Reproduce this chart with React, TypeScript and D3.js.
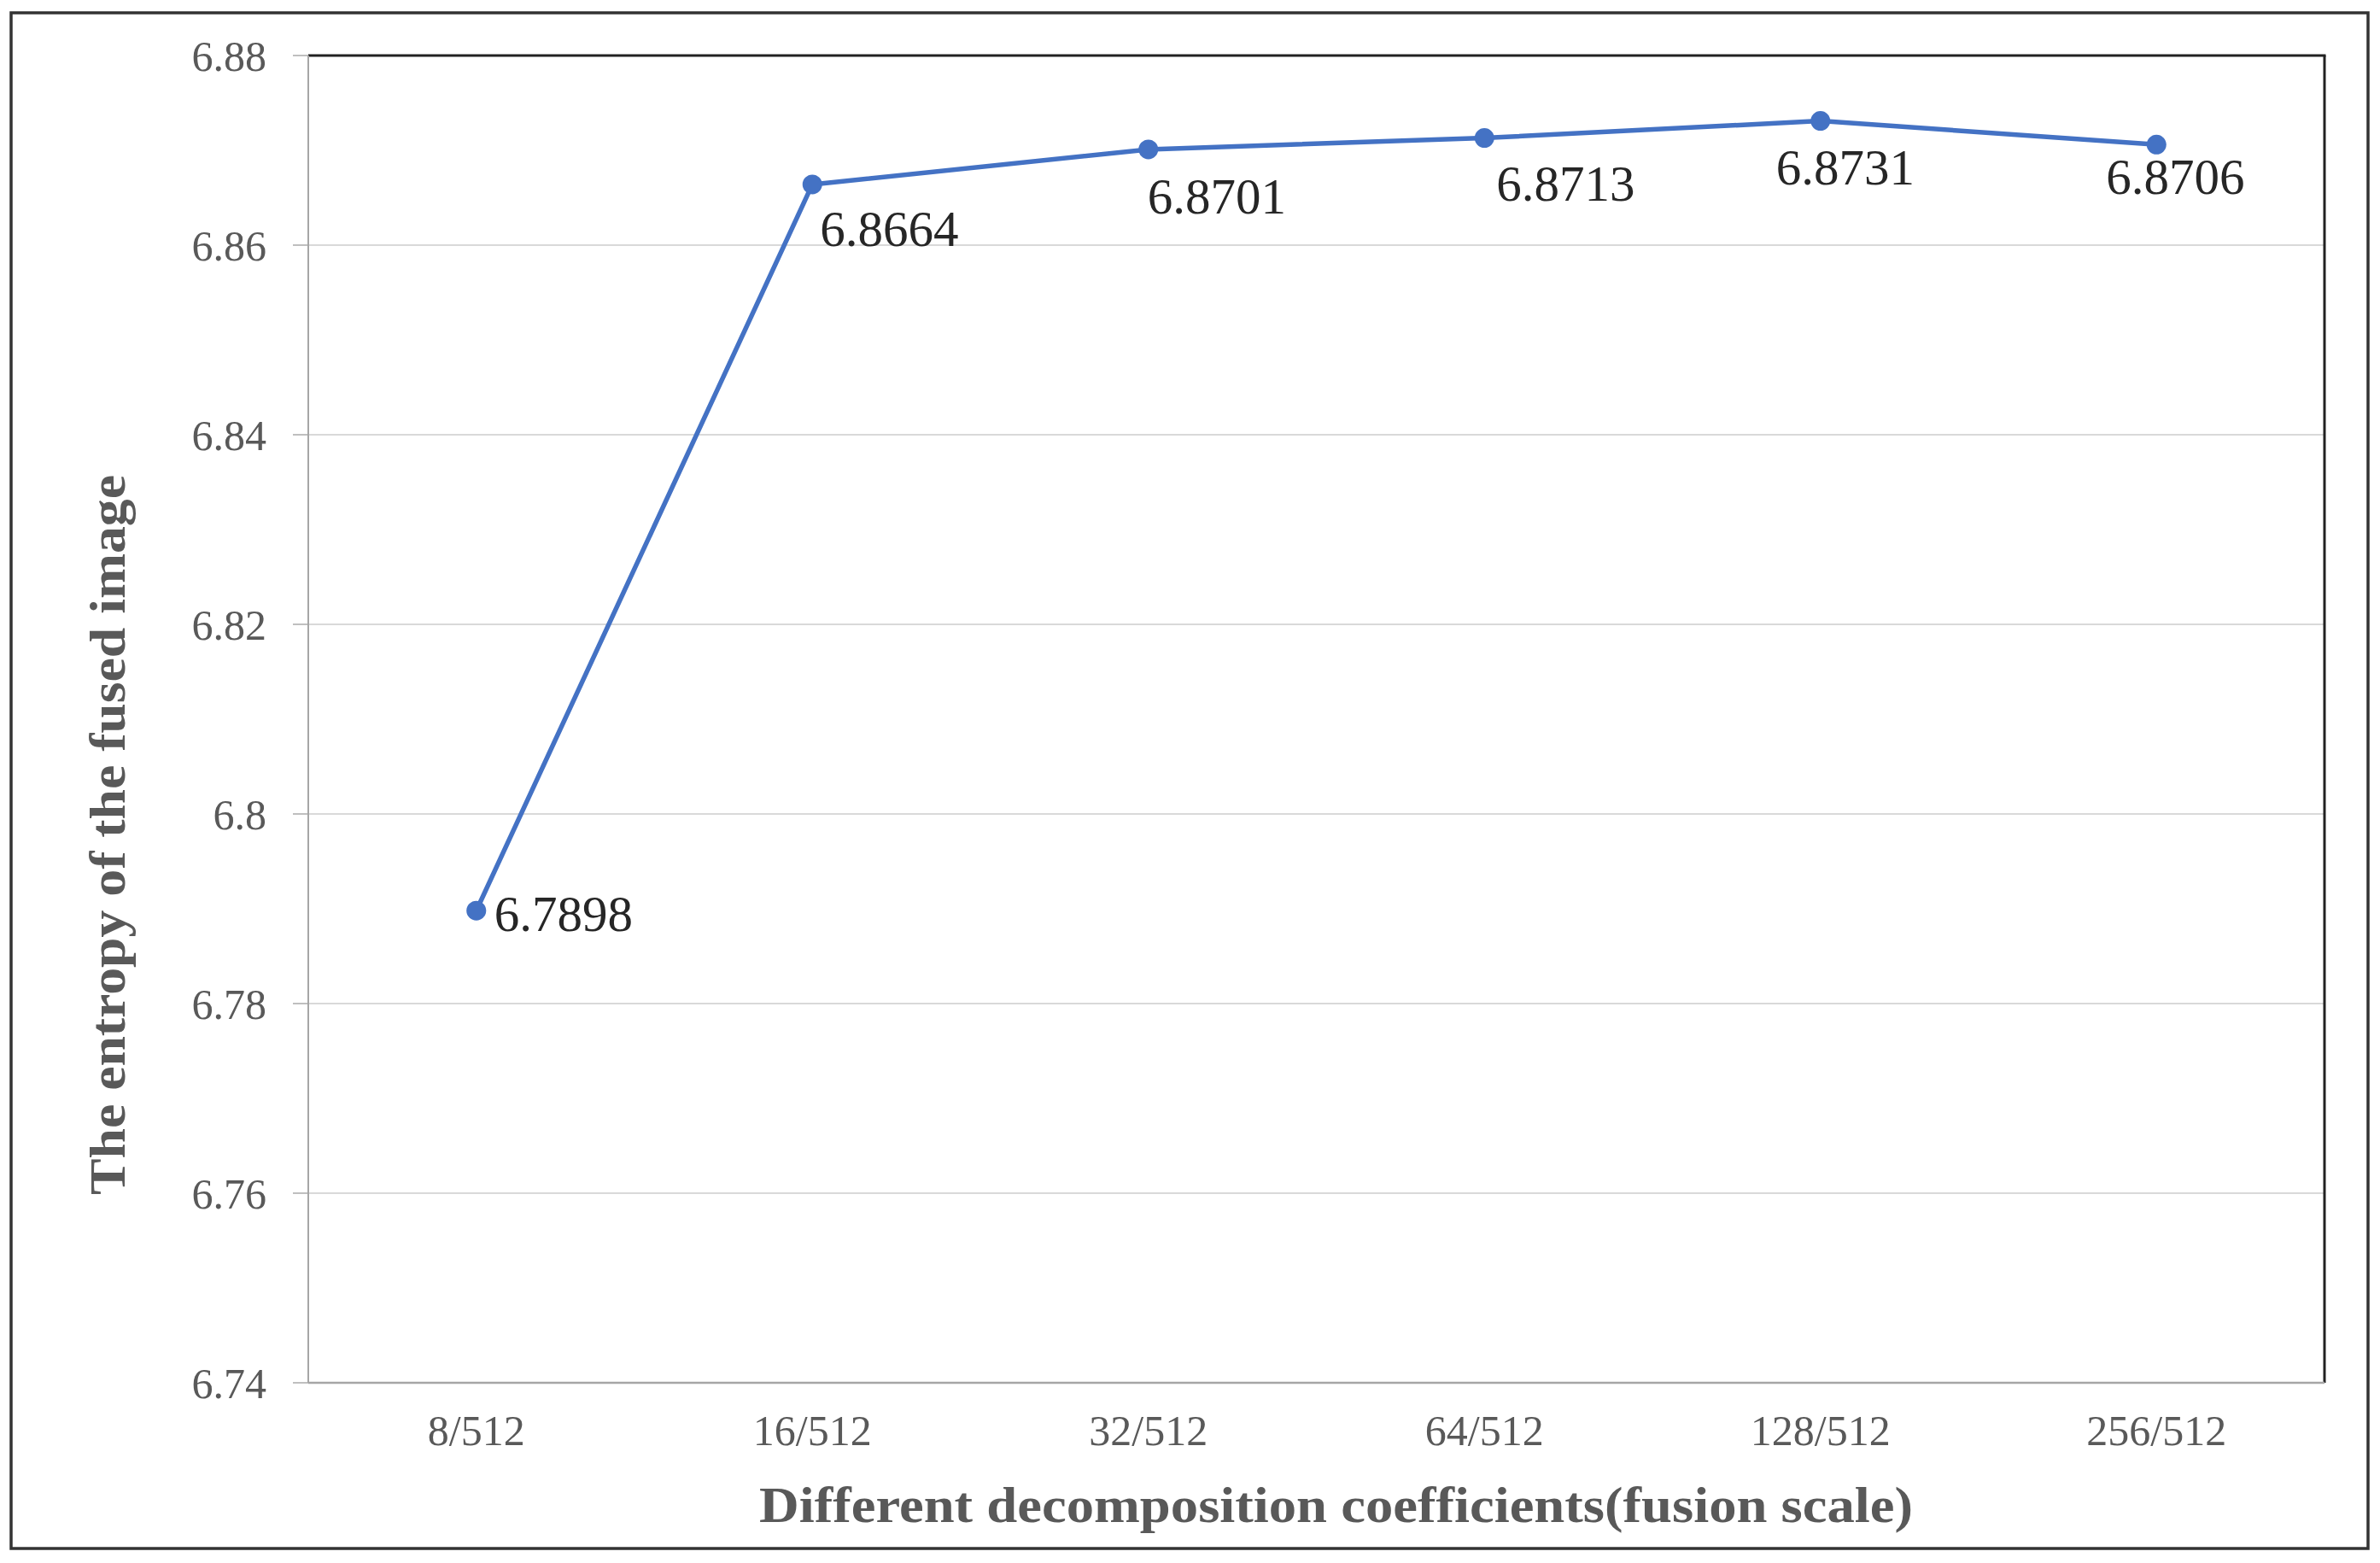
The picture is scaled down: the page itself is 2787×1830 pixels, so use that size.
import React from "react";
import * as d3 from "d3";

const categories = ["8/512", "16/512", "32/512", "64/512", "128/512", "256/512"];
const entropyValues = [6.7898, 6.8664, 6.8701, 6.8713, 6.8731, 6.8706];
const yTicks = [6.74, 6.76, 6.78, 6.8, 6.82, 6.84, 6.86, 6.88];
const yTickLabels = ["6.74", "6.76", "6.78", "6.8", "6.82", "6.84", "6.86", "6.88"];
const xTitle = "Different decomposition coefficients(fusion scale)";
const yTitle = "The entropy of the fused image";

// label layout (offset of label start / baseline from its point)
const labelDx = [21, 9, -1, 14, -52, -59];
const labelDy = [24, 72, 75, 73, 74, 58];

const W = 2787;
const H = 1830;
const L = 361, R = 2722, T = 65, B = 1619;
const FONT = "'Liberation Serif', 'Times New Roman', Times, serif";

export default function App() {
  const x = d3.scaleBand<string>().domain(categories).range([L, R]).padding(0);
  const y = d3.scaleLinear().domain([6.74, 6.88]).range([B, T]);
  const cx = (c: string) => (x(c) as number) + x.bandwidth() / 2;
  const line = d3
    .line<number>()
    .x((_, i) => cx(categories[i]))
    .y((v) => y(v));

  return (
    <svg
      width={W}
      height={H}
      viewBox={`0 0 ${W} ${H}`}
      style={{ position: "absolute", left: 0, top: 0, background: "#fff" }}
    >
      <rect x={0} y={0} width={W} height={H} fill="#fff" />
      {/* outer frame */}
      <rect x={13} y={15} width={2760} height={1798} fill="none" stroke="#333" strokeWidth={3.5} />

      {/* gridlines */}
      {yTicks.map((t, i) =>
        i === 0 || i === yTicks.length - 1 ? null : (
          <line key={"g" + i} x1={L} x2={R} y1={y(t)} y2={y(t)} stroke="#d9d9d9" strokeWidth={2} />
        )
      )}
      {/* y ticks */}
      {yTicks.map((t, i) => (
        <line key={"t" + i} x1={343} x2={L} y1={y(t)} y2={y(t)} stroke="#bfbfbf" strokeWidth={2} />
      ))}
      {/* plot border: top and right black, left and bottom gray */}
      <line x1={L} x2={R + 1.5} y1={T} y2={T} stroke="#222" strokeWidth={3} />
      <line x1={R} x2={R} y1={T} y2={B} stroke="#222" strokeWidth={3} />
      <line x1={L} x2={L} y1={T} y2={B} stroke="#a6a6a6" strokeWidth={2} />
      <line x1={L} x2={R} y1={B} y2={B} stroke="#a6a6a6" strokeWidth={2.5} />

      {/* y tick labels */}
      {yTicks.map((t, i) => (
        <text
          key={"yl" + i}
          x={312}
          y={y(t)}
          dy="0.35em"
          textAnchor="end"
          fontFamily={FONT}
          fontSize={50}
          fill="#595959"
        >
          {yTickLabels[i]}
        </text>
      ))}

      {/* x tick labels */}
      {categories.map((c) => (
        <text
          key={"xl" + c}
          x={cx(c)}
          y={1692}
          textAnchor="middle"
          fontFamily={FONT}
          fontSize={50}
          fill="#595959"
        >
          {c}
        </text>
      ))}

      {/* series */}
      <path d={line(entropyValues) || ""} fill="none" stroke="#4472C4" strokeWidth={5.5} strokeLinejoin="round" />
      {entropyValues.map((v, i) => (
        <circle key={"p" + i} cx={cx(categories[i])} cy={y(v)} r={11.5} fill="#4472C4" />
      ))}
      {entropyValues.map((v, i) => (
        <text
          key={"dl" + i}
          x={cx(categories[i]) + labelDx[i]}
          y={y(v) + labelDy[i]}
          fontFamily={FONT}
          fontSize={59}
          fill="#262626"
        >
          {v.toFixed(4)}
        </text>
      ))}

      {/* axis titles */}
      <text
        x={889}
        y={1782}
        fontFamily={FONT}
        fontWeight="bold"
        fontSize={59}
        fill="#595959"
        textLength={1351}
        lengthAdjust="spacingAndGlyphs"
      >
        {xTitle}
      </text>
      <text
        transform={`translate(146, 1399) rotate(-90)`}
        x={0}
        y={0}
        fontFamily={FONT}
        fontWeight="bold"
        fontSize={59}
        fill="#595959"
        textLength={843}
        lengthAdjust="spacingAndGlyphs"
      >
        {yTitle}
      </text>
    </svg>
  );
}
